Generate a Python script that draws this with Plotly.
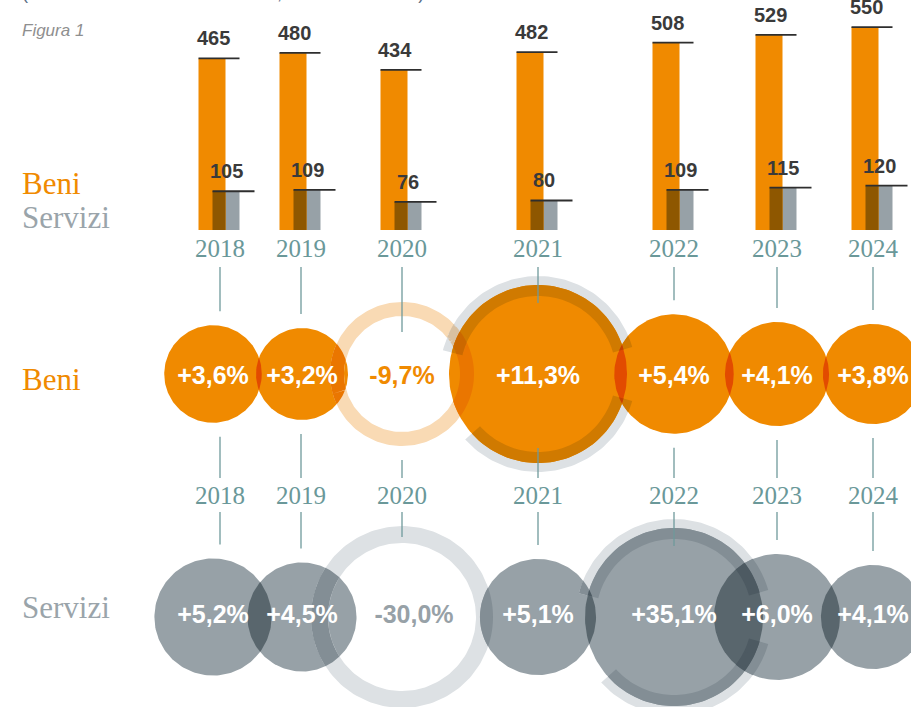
import numpy as np
import plotly.graph_objects as go

# ---------------- data ----------------
YEARS = [2018, 2019, 2020, 2021, 2022, 2023, 2024]
BENI_LEVEL = [465, 480, 434, 482, 508, 529, 550]
SERVIZI_LEVEL = [105, 109, 76, 80, 109, 115, 120]
BENI_GROWTH = [3.6, 3.2, -9.7, 11.3, 5.4, 4.1, 3.8]
SERVIZI_GROWTH = [5.2, 4.5, -30.0, 5.1, 35.1, 6.0, 4.1]
SERIES_NAMES = ["Beni", "Servizi"]
NOTE_TEXT = "(valori correnti in miliardi di euro, variazioni annue)"
FIG_LABEL = "Figura 1"

# ---------------- layout / style ----------------
W, H = 911, 707
X_SLOT = [220, 301, 402, 538, 674, 777, 873]      # horizontal slot of each year (px axis units)
CIRCLE_NUDGE = [-7, 1, 0, 0, 0, 0, 0]
ORANGE = (240, 138, 0)
GRAY = (151, 161, 167)
RING_ORANGE = (249, 218, 180)
RING_GRAY = (221, 225, 228)
TEAL = "#6a9899"
TEAL_LINE = "#6f9a9b"
DARK = "#3a3a3a"

PX_PER_UNIT = 0.369       # bar scale
BAR_BASE_PX = 230
BAR_W = 27
OR_OFF, SV_OFF = -8, 6

BUBBLE_K = 25.7           # radius = K * sqrt(|growth|)
CAP_LIMIT = 10.0          # above this the bubble is capped
CAP_R = 89
HALO = (78, 98, [(16, 166), (222, 344)])

SERIF = "Liberation Serif, DejaVu Serif, serif"
SANS = "Liberation Sans, Arial, sans-serif"


def hexc(c):
    return "#%02x%02x%02x" % tuple(int(round(v)) for v in c)


def mult(*cols):
    out = np.array([255.0, 255.0, 255.0])
    for c in cols:
        out = out * np.array(c) / 255.0
    return tuple(out)


ROWS = [
    dict(name=SERIES_NAMES[0], vals=BENI_GROWTH, cy=374, color=ORANGE, ring=RING_ORANGE,
         neg=(58, 72), neg_text=hexc(ORANGE), text_dy=4, neg_text_dx=0,
         top=267, neg_top_inset=16, bottom=478, label_y=379),
    dict(name=SERIES_NAMES[1], vals=SERVIZI_GROWTH, cy=617, color=GRAY, ring=RING_GRAY,
         neg=(74, 91), neg_text=hexc(GRAY), text_dy=0, neg_text_dx=12,
         top=512, neg_top_inset=-6, bottom=None, label_y=607),
]


# ---------------- geometry helpers ----------------
def disc_pts(cx, cy, r, n=180):
    t = np.linspace(0, 2 * np.pi, n, endpoint=False)
    return [(cx + r * np.cos(a), cy - r * np.sin(a)) for a in t]


def arc_pts(cx, cy, r, a0, a1, n):
    t = np.radians(np.linspace(a0, a1, n + 1))
    return [(cx + r * np.cos(a), cy - r * np.sin(a)) for a in t]


def arc_quads(cx, cy, r0, r1, a0, a1, step=2.0):
    n = max(1, int(np.ceil((a1 - a0) / step)))
    o = arc_pts(cx, cy, r1, a0, a1, n)
    i = arc_pts(cx, cy, r0, a0, a1, n)
    return [[o[k], o[k + 1], i[k + 1], i[k]] for k in range(n)]


def arc_poly(cx, cy, r0, r1, a0, a1, step=2.0):
    n = max(1, int(np.ceil((a1 - a0) / step)))
    return arc_pts(cx, cy, r1, a0, a1, n) + arc_pts(cx, cy, r0, a0, a1, n)[::-1]


def bbox(p):
    xs = [q[0] for q in p]
    ys = [q[1] for q in p]
    return (min(xs), min(ys), max(xs), max(ys))


def bb_over(a, b):
    return a[0] < b[2] and b[0] < a[2] and a[1] < b[3] and b[1] < a[3]


def _inter(sx, sy, px, py, ax, ay, bx, by):
    dx, dy = px - sx, py - sy
    ex, ey = bx - ax, by - ay
    den = dx * ey - dy * ex
    if abs(den) < 1e-12:
        return (px, py)
    t = ((ax - sx) * ey - (ay - sy) * ex) / den
    return (sx + t * dx, sy + t * dy)


def area(p):
    s = 0.0
    n = len(p)
    for i in range(n):
        x1, y1 = p[i]
        x2, y2 = p[(i + 1) % n]
        s += x1 * y2 - x2 * y1
    return s / 2.0


def clip(subj, clp):
    sgn = 1.0 if area(clp) > 0 else -1.0
    out = list(subj)
    n = len(clp)
    for i in range(n):
        ax, ay = clp[i]
        bx, by = clp[(i + 1) % n]
        ex, ey = bx - ax, by - ay
        inp = out
        out = []
        if not inp:
            return []
        sx, sy = inp[-1]
        s_in = sgn * (ex * (sy - ay) - ey * (sx - ax)) >= 0
        for (px, py) in inp:
            p_in = sgn * (ex * (py - ay) - ey * (px - ax)) >= 0
            if p_in:
                if not s_in:
                    out.append(_inter(sx, sy, px, py, ax, ay, bx, by))
                out.append((px, py))
            elif s_in:
                out.append(_inter(sx, sy, px, py, ax, ay, bx, by))
            sx, sy, s_in = px, py, p_in
    return out


def intersect(P, Q):
    res = []
    for p, bp in P:
        for q, bq in Q:
            if bb_over(bp, bq):
                c = clip(p, q)
                if len(c) >= 3 and abs(area(c)) > 0.3:
                    res.append((c, bbox(c)))
    return res


def make_shape(draw, pieces, color):
    pcs = [(p, bbox(p)) for p in pieces]
    allb = bbox([pt for p in pieces for pt in p])
    return dict(draw=draw, pieces=pcs, color=color, bb=allb)


def poly_trace(polys, rgb):
    xs, ys = [], []
    for p in polys:
        xs += [q[0] for q in p] + [p[0][0], None]
        ys += [q[1] for q in p] + [p[0][1], None]
    return go.Scatter(x=xs, y=ys, mode="lines", fill="toself", fillcolor=hexc(rgb),
                      line=dict(width=0, color=hexc(rgb)), hoverinfo="skip", showlegend=False)


def fmt(v):
    return ("%+.1f%%" % v).replace(".", ",")


fig = go.Figure()

# ---------------- bars (level values) ----------------
y2_top = BAR_BASE_PX / PX_PER_UNIT
y2_bot = y2_top - H / PX_PER_UNIT
x_or = [x + OR_OFF for x in X_SLOT]
x_sv = [x + SV_OFF for x in X_SLOT]
ov_left = [x - BAR_W / 2 for x in x_sv]
ov_right = [x + BAR_W / 2 for x in x_or]
fig.add_bar(x=x_sv, y=SERVIZI_LEVEL, width=BAR_W, marker=dict(color=hexc(GRAY), line=dict(width=0)),
            yaxis="y2", hoverinfo="skip", showlegend=False)
fig.add_bar(x=x_or, y=BENI_LEVEL, width=BAR_W, marker=dict(color=hexc(ORANGE), line=dict(width=0)),
            yaxis="y2", hoverinfo="skip", showlegend=False)
fig.add_bar(x=[(a + b) / 2 for a, b in zip(ov_left, ov_right)],
            y=[min(a, b) for a, b in zip(BENI_LEVEL, SERVIZI_LEVEL)],
            width=[b - a for a, b in zip(ov_left, ov_right)],
            marker=dict(color=hexc(mult(ORANGE, GRAY)), line=dict(width=0)),
            yaxis="y2", hoverinfo="skip", showlegend=False)

lx, ly = [], []
for i in range(len(YEARS)):
    lx += [x_or[i] - BAR_W / 2, x_sv[i] + BAR_W / 2, None]
    ly += [BENI_LEVEL[i], BENI_LEVEL[i], None]
    lx += [x_sv[i] - BAR_W / 2, x_sv[i] + BAR_W / 2 + 15, None]
    ly += [SERVIZI_LEVEL[i], SERVIZI_LEVEL[i], None]
fig.add_scatter(x=lx, y=ly, mode="lines", yaxis="y2", line=dict(color="#2e2e2e", width=1.8),
                hoverinfo="skip", showlegend=False)

ann = []
for i in range(len(YEARS)):
    ann.append(dict(x=x_or[i] + 1, y=BENI_LEVEL[i], xref="x", yref="y2", yanchor="bottom", yshift=7,
                    text="<b>%d</b>" % BENI_LEVEL[i], showarrow=False,
                    font=dict(family=SANS, size=20, color=DARK)))
    ann.append(dict(x=x_sv[i], y=SERVIZI_LEVEL[i], xref="x", yref="y2", yanchor="bottom", yshift=7,
                    text="<b>%d</b>" % SERVIZI_LEVEL[i], showarrow=False,
                    font=dict(family=SANS, size=20, color=DARK)))
    ann.append(dict(x=X_SLOT[i], y=248.5, xref="x", yref="y", text=str(YEARS[i]), showarrow=False,
                    font=dict(family=SERIF, size=25, color=TEAL)))
    ann.append(dict(x=X_SLOT[i], y=495, xref="x", yref="y", text=str(YEARS[i]), showarrow=False,
                    font=dict(family=SERIF, size=25, color=TEAL)))

# ---------------- bubbles (growth rates) ----------------
conn_x, conn_y = [], []
for row in ROWS:
    cy = row["cy"]
    shapes = []
    tx, ty, tt, tc = [], [], [], []
    for i, v in enumerate(row["vals"]):
        cx = X_SLOT[i] + CIRCLE_NUDGE[i]
        if v < 0:
            rin, rout = row["neg"]
            quads = arc_quads(cx, cy, rin, rout, 0, 360)
            shapes.append(make_shape([arc_poly(cx, cy, rin, rout, 0, 360)], quads, row["ring"]))
            tx.append(cx + row["neg_text_dx"]); tc.append(row["neg_text"])
            top_end = cy - rin + row["neg_top_inset"]
            bot_start = cy + rout + 14
        elif v > CAP_LIMIT:
            h0, h1, arcs = HALO
            for a0, a1 in arcs:
                shapes.append(make_shape([arc_poly(cx, cy, h0, h1, a0, a1)],
                                         arc_quads(cx, cy, h0, h1, a0, a1), RING_GRAY))
            d = disc_pts(cx, cy, CAP_R)
            shapes.append(make_shape([d], [d], row["color"]))
            tx.append(cx); tc.append("#ffffff")
            top_end = cy - CAP_R + 18
            bot_start = cy + CAP_R - 15
        else:
            r = BUBBLE_K * np.sqrt(v)
            d = disc_pts(cx, cy, r)
            shapes.append(make_shape([d], [d], row["color"]))
            tx.append(cx); tc.append("#ffffff")
            top_end = cy - r - 14
            bot_start = cy + r + 14
        ty.append(cy + row["text_dy"])
        tt.append("<b>%s</b>" % fmt(v))
        conn_x += [X_SLOT[i], X_SLOT[i], None]
        conn_y += [row["top"], top_end, None]
        if row["bottom"] is not None:
            conn_x += [X_SLOT[i], X_SLOT[i], None]
            conn_y += [bot_start, row["bottom"], None]

    # base shapes
    for s in shapes:
        fig.add_trace(poly_trace(s["draw"], s["color"]))
    # pairwise overlaps (multiply blend)
    pairs = []
    n = len(shapes)
    for a in range(n):
        for b in range(a + 1, n):
            if bb_over(shapes[a]["bb"], shapes[b]["bb"]):
                pcs = intersect(shapes[a]["pieces"], shapes[b]["pieces"])
                if pcs:
                    pairs.append((a, b, pcs))
                    fig.add_trace(poly_trace([p for p, _ in pcs], mult(shapes[a]["color"], shapes[b]["color"])))
    # triple overlaps
    for a, b, pcs in pairs:
        for c in range(b + 1, n):
            if bb_over(shapes[c]["bb"], bbox([pt for p, _ in pcs for pt in p])):
                p3 = intersect(pcs, shapes[c]["pieces"])
                if p3:
                    fig.add_trace(poly_trace([p for p, _ in p3],
                                             mult(shapes[a]["color"], shapes[b]["color"], shapes[c]["color"])))

    fig.add_scatter(x=tx, y=ty, mode="text", text=tt,
                    textfont=dict(family=SANS, size=25, color=tc),
                    hoverinfo="skip", showlegend=False)

fig.add_scatter(x=conn_x, y=conn_y, mode="lines", line=dict(color=TEAL_LINE, width=1.3),
                hoverinfo="skip", showlegend=False)

# ---------------- labels ----------------
ann += [
    dict(x=20, y=183, xref="x", yref="y", xanchor="left", text=SERIES_NAMES[0], showarrow=False,
         font=dict(family=SERIF, size=31, color=hexc(ORANGE))),
    dict(x=20, y=217, xref="x", yref="y", xanchor="left", text=SERIES_NAMES[1], showarrow=False,
         font=dict(family=SERIF, size=31, color="#9aa4aa")),
    dict(x=20, y=ROWS[0]["label_y"], xref="x", yref="y", xanchor="left", text=SERIES_NAMES[0], showarrow=False,
         font=dict(family=SERIF, size=31, color=hexc(ORANGE))),
    dict(x=20, y=ROWS[1]["label_y"], xref="x", yref="y", xanchor="left", text=SERIES_NAMES[1], showarrow=False,
         font=dict(family=SERIF, size=31, color="#9aa4aa")),
    dict(x=20, y=30, xref="x", yref="y", xanchor="left", text="<i>%s</i>" % FIG_LABEL, showarrow=False,
         font=dict(family=SANS, size=17, color="#8f8f8f")),
    dict(x=20 / W, y=1 + 6.5 / H, xref="paper", yref="paper", xanchor="left", yanchor="middle",
         text=NOTE_TEXT, showarrow=False,
         font=dict(family=SANS, size=18, color="#5b7086")),
]

fig.update_layout(
    width=W, height=H, autosize=False,
    margin=dict(l=0, r=0, t=0, b=0, pad=0),
    paper_bgcolor="white", plot_bgcolor="white",
    barmode="overlay", showlegend=False,
    xaxis=dict(range=[0, W], visible=False, fixedrange=True),
    yaxis=dict(range=[H, 0], visible=False, fixedrange=True),
    yaxis2=dict(range=[y2_bot, y2_top], overlaying="y", visible=False, fixedrange=True),
    annotations=ann,
)

fig.write_html("out.html", config={"displayModeBar": False},
               post_script="document.body.style.margin='0';"
                           "document.documentElement.style.overflow='hidden';")
